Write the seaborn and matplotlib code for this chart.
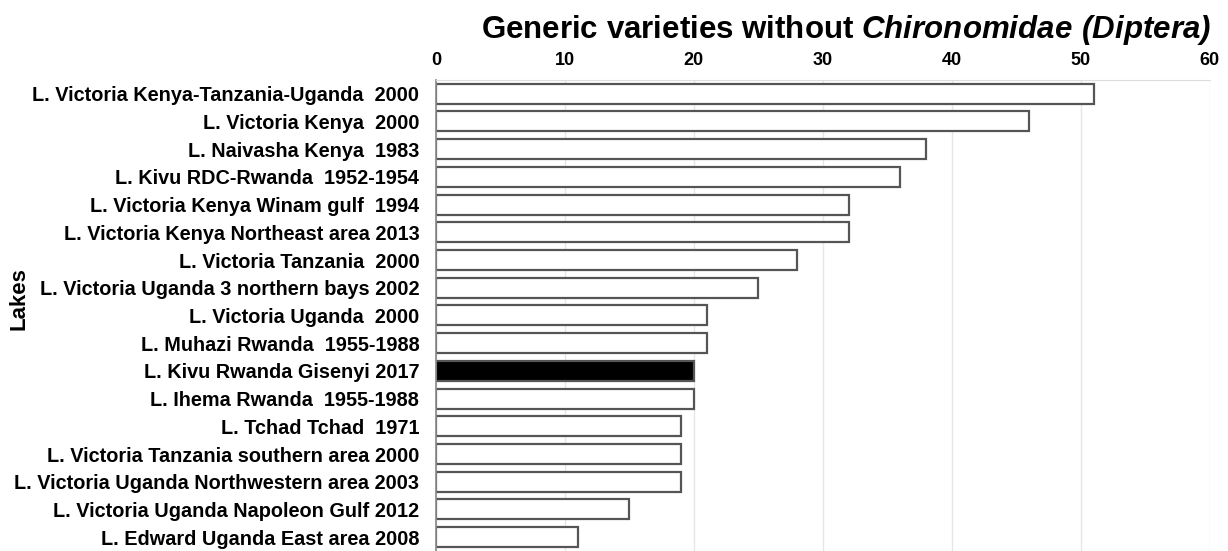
import matplotlib
matplotlib.use("Agg")
import matplotlib.pyplot as plt
import seaborn as sns
import pandas as pd

lakes = [
    "L. Victoria Kenya-Tanzania-Uganda  2000",
    "L. Victoria Kenya  2000",
    "L. Naivasha Kenya  1983",
    "L. Kivu RDC-Rwanda  1952-1954",
    "L. Victoria Kenya Winam gulf  1994",
    "L. Victoria Kenya Northeast area 2013",
    "L. Victoria Tanzania  2000",
    "L. Victoria Uganda 3 northern bays 2002",
    "L. Victoria Uganda  2000",
    "L. Muhazi Rwanda  1955-1988",
    "L. Kivu Rwanda Gisenyi 2017",
    "L. Ihema Rwanda  1955-1988",
    "L. Tchad Tchad  1971",
    "L. Victoria Tanzania southern area 2000",
    "L. Victoria Uganda Northwestern area 2003",
    "L. Victoria Uganda Napoleon Gulf 2012",
    "L. Edward Uganda East area 2008",
]
varieties = [51, 46, 38, 36, 32, 32, 28, 25, 21, 21, 20, 20, 19, 19, 19, 15, 11]
highlight = "L. Kivu Rwanda Gisenyi 2017"

df = pd.DataFrame({"lake": lakes, "varieties": varieties})
colors = ["black" if l == highlight else "white" for l in lakes]

sns.set_style("white")
plt.rcParams["font.family"] = ["Liberation Sans", "DejaVu Sans"]
plt.rcParams["mathtext.fontset"] = "custom"
plt.rcParams["mathtext.bfit"] = "Liberation Sans:italic:bold"
plt.rcParams["text.color"] = "black"
plt.rcParams["axes.labelcolor"] = "black"
plt.rcParams["xtick.color"] = "black"
plt.rcParams["ytick.color"] = "black"

fig = plt.figure(figsize=(12.28, 5.51), dpi=100)
ax = fig.add_axes([0.355, 0.0, 0.630, 0.855])

sns.barplot(data=df, x="varieties", y="lake", hue="lake", palette=colors,
            legend=False, width=0.72, edgecolor="#555555", linewidth=1.6, ax=ax)

ax.set_xlim(0, 60)
ax.set_xticks(range(0, 61, 10))
ax.xaxis.tick_top()
ax.xaxis.set_label_position("top")
ax.tick_params(axis="x", length=0, pad=8, labelsize=13)
ax.tick_params(axis="y", length=0, pad=12, labelsize=14.3)
for lbl in ax.get_xticklabels() + ax.get_yticklabels():
    lbl.set_fontweight("bold")

ax.grid(axis="x", color="#e6e6e6", linewidth=1)
ax.set_axisbelow(True)
for side in ["right", "bottom"]:
    ax.spines[side].set_visible(False)
ax.spines["top"].set_color("#dddddd")
ax.spines["left"].set_color("#888888")
ax.spines["left"].set_linewidth(1.2)

ax.set_xlabel("")
ax.set_ylabel("Lakes", fontsize=16, fontweight="bold")
ax.yaxis.set_label_coords(-0.525, 0.535)

fig.text(0.986, 0.945,
         r"Generic varieties without $\mathbfit{Chironomidae\ (Diptera)}$",
         ha="right", va="center", fontsize=22.5, fontweight="bold")

fig.savefig("out.png", dpi=100)
